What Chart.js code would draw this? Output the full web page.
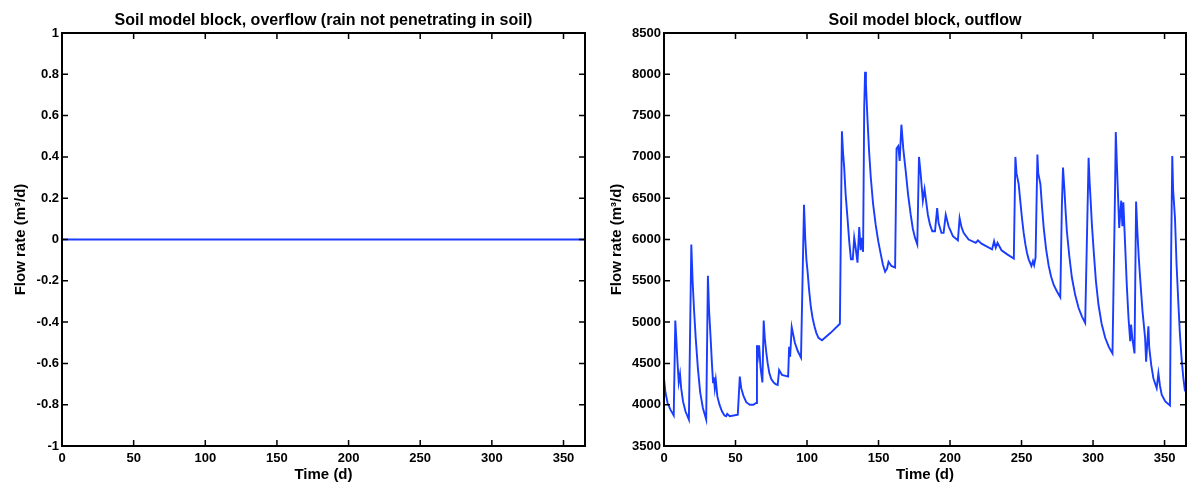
<!DOCTYPE html>
<html><head><meta charset="utf-8">
<script src="https://cdn.jsdelivr.net/npm/chart.js@4.4.1/dist/chart.umd.min.js"></script>
<style>
html,body{margin:0;padding:0;background:#fff;}
#wrap{position:relative;width:1187px;height:486px;overflow:hidden;}
.box{position:absolute;top:0;height:486px;}
#b1{left:0;width:600px;}
#b2{left:600px;width:587px;}
</style></head><body>
<div id="wrap">
  <div class="box" id="b1"><canvas id="c1"></canvas></div>
  <div class="box" id="b2"><canvas id="c2"></canvas></div>
</div>
<script>
/* ---- data ---- */
const overflowDays = [0, 365];
const overflowFlow = [0, 0];

const outflowDays = [
  0,1.0,2.5,4.5,6.8,7.9,8.6,9.3,10.3,11.2,12.0,13.3,15.0,17.4,
  19.1,20.0,21.0,22.2,23.7,25.3,27.2,29.5,
  30.7,31.5,32.6,33.5,34.3,34.9,35.5,36.2,37.3,38.8,40.5,42.3,43.5,44.2,46.0,51.6,
  53.0,54.0,55.5,57.5,60.0,62.5,64.4,
  65.0,65.8,66.5,67.5,68.8,69.7,70.5,71.4,72.5,73.7,75.0,76.6,78.0,79.5,
  80.5,82.5,86.8,87.5,88.2,89.3,91.5,93.5,95.8,
  97.9,98.8,99.6,100.4,101.5,102.7,103.9,105.2,106.5,108.0,110.5,116.5,123.0,
  124.4,125.2,126.0,127.0,128.3,129.5,130.7,132.0,133.0,134.0,135.3,136.5,137.5,138.3,139.2,140.0,
  140.6,141.2,142.3,143.4,144.6,146.2,148.0,149.8,151.6,153.0,154.6,156.0,157.0,159.0,161.6,
  162.6,163.8,164.8,166.0,167.3,169.0,170.7,172.5,174.0,175.5,177.1,
  178.3,179.5,180.3,181.0,182.2,184.5,186.0,187.6,189.5,191.0,192.0,194.0,195.5,
  197.0,199.0,202.0,205.5,206.7,208.0,209.5,213.0,218.0,219.5,222.0,229.4,230.8,232.0,233.2,236.0,240.0,244.6,
  245.7,246.5,248.0,249.1,250.3,251.5,252.7,253.8,255.0,256.9,258.0,258.8,259.8,
  261.1,261.7,263.2,264.3,265.5,267.2,269.0,270.7,272.5,274.8,277.1,278.2,
  279.0,280.0,280.8,281.7,283.4,285.2,287.5,289.9,292.2,294.5,
  296.9,297.6,298.4,299.2,300.5,302.0,303.8,306.0,308.5,311.0,313.6,315.3,
  315.9,316.7,318.3,319.7,320.5,321.2,322.4,323.6,324.8,326.0,326.6,327.5,329.0,
  330.1,331.0,331.9,332.9,334.6,336.4,337.1,338.7,339.3,340.7,342.2,344.5,345.7,346.8,348.0,350.5,353.8,354.6,
  355.4,356.0,357.3,358.4,359.6,360.7,361.9,363.1,364.3
];
const outflowFlow = [
  4320,4150,4020,3940,3870,5020,4800,4560,4270,4370,4200,4040,3920,3820,
  5940,5500,5150,4800,4440,4150,3960,3820,
  5560,5150,4810,4500,4270,4330,4200,4300,4100,4000,3920,3870,3860,3890,3860,3880,
  4340,4200,4110,4030,4000,4000,4020,
  4720,4600,4720,4450,4270,5020,4800,4650,4500,4380,4310,4270,4250,4240,
  4420,4360,4340,4700,4580,4940,4750,4650,4570,
  6420,6000,5750,5610,5380,5180,5050,4950,4870,4810,4780,4870,4980,
  7310,7050,6870,6550,6260,5980,5760,5760,6020,5900,5720,6150,5870,6020,5850,7600,
  8030,7880,7450,7070,6750,6430,6180,5980,5820,5700,5610,5650,5730,5680,5660,
  7100,7130,6950,7390,7100,6830,6540,6300,6130,6020,5940,
  7000,6790,6620,6470,6610,6300,6180,6100,6100,6380,6200,6080,6080,
  6300,6160,6040,5990,6260,6150,6080,6000,5960,5990,5950,5880,5980,5900,5960,5870,5820,5770,
  7000,6800,6670,6470,6260,6080,5940,5840,5760,5680,5740,5690,5780,
  7030,6800,6670,6400,6140,5880,5680,5550,5450,5370,5300,6400,
  6870,6600,6350,6100,5800,5540,5330,5170,5070,4990,
  6990,6700,6450,6180,5850,5500,5210,4980,4810,4700,4620,6500,
  7300,6900,6140,6470,6160,6450,5950,5450,5050,4770,4970,4800,4620,
  6460,6100,5800,5540,5130,4810,4520,4950,4690,4480,4320,4200,4380,4230,4120,4040,3990,5800,
  7010,6600,6260,5700,5250,4870,4560,4330,4160
];

const leftTicks  = [-1,-0.8,-0.6,-0.4,-0.2,0,0.2,0.4,0.6,0.8,1];
const rightTicks = [3500,4000,4500,5000,5500,6000,6500,7000,7500,8000,8500];
const dayTicks   = [0,50,100,150,200,250,300,350];

const FONT = '"Liberation Sans", Arial, Helvetica, sans-serif';
const LINE = 'rgb(25,60,255)';

/* ---- box, inward ticks and title ---- */
const frame = {
  id:'frame',
  afterDraw(chart, args, opts){
    const {ctx, chartArea:a, scales:{x,y}} = chart;
    const t = 6;
    ctx.save();
    ctx.strokeStyle = '#000';
    ctx.lineWidth = 1.5;
    ctx.beginPath();
    x.ticks.forEach(k=>{
      const p = x.getPixelForValue(k.value);
      ctx.moveTo(p,a.bottom); ctx.lineTo(p,a.bottom-t);
      ctx.moveTo(p,a.top);    ctx.lineTo(p,a.top+t);
    });
    y.ticks.forEach(k=>{
      const p = y.getPixelForValue(k.value);
      ctx.moveTo(a.left,p);  ctx.lineTo(a.left+t,p);
      ctx.moveTo(a.right,p); ctx.lineTo(a.right-t,p);
    });
    ctx.stroke();
    ctx.lineWidth = 2;
    ctx.strokeRect(a.left, a.top, a.right-a.left, a.bottom-a.top);
    ctx.fillStyle = '#000';
    ctx.font = 'bold 16px ' + FONT;
    ctx.textAlign = 'center';
    ctx.textBaseline = 'alphabetic';
    ctx.fillText(opts.text, (a.left+a.right)/2, 25);
    ctx.restore();
  }
};

const fmt = v => String(Math.round(v*10)/10);

function makeChart(id, days, vals, yTicks, title, yw, padRight, yTitlePad){
  const pts = days.map((d,i)=>({x:d, y:vals[i]}));
  return new Chart(document.getElementById(id),{
    type:'line',
    data:{datasets:[{data:pts, borderColor:LINE, borderWidth:1.9, pointRadius:0, tension:0, fill:false}]},
    options:{
      responsive:true, maintainAspectRatio:false, animation:false,
      layout:{padding:{top:33, right:padRight, left:0, bottom:0}},
      plugins:{legend:{display:false}, tooltip:{enabled:false}, frame:{text:title}},
      scales:{
        x:{type:'linear', min:0, max:365,
          afterBuildTicks:s=>{ s.ticks = dayTicks.map(v=>({value:v})); },
          afterFit:s=>{ s.height = 40; },
          grid:{display:false, drawTicks:false, tickLength:0}, border:{display:false},
          ticks:{color:'#000', font:{family:FONT, size:13, weight:'bold'}, padding:5, maxRotation:0, callback:fmt},
          title:{display:true, text:'Time (d)', color:'#000', font:{family:FONT, size:15, weight:'bold'}, padding:{top:0,bottom:2}}
        },
        y:{type:'linear', min:yTicks[0], max:yTicks[yTicks.length-1],
          afterBuildTicks:s=>{ s.ticks = yTicks.map(v=>({value:v})); },
          afterFit:s=>{ s.width = yw; },
          grid:{display:false, drawTicks:false, tickLength:0}, border:{display:false},
          ticks:{color:'#000', font:{family:FONT, size:13, weight:'bold'}, padding:3, callback:fmt},
          title:{display:true, text:'Flow rate (m³/d)', color:'#000', font:{family:FONT, size:15, weight:'bold'}, padding:{top:yTitlePad,bottom:0}}
        }
      }
    },
    plugins:[frame]
  });
}

makeChart('c1', overflowDays, overflowFlow, leftTicks,
  'Soil model block, overflow (rain not penetrating in soil)', 62, 15, 12);
makeChart('c2', outflowDays, outflowFlow, rightTicks,
  'Soil model block, outflow', 64, 1, 8);
</script>
</body></html>
